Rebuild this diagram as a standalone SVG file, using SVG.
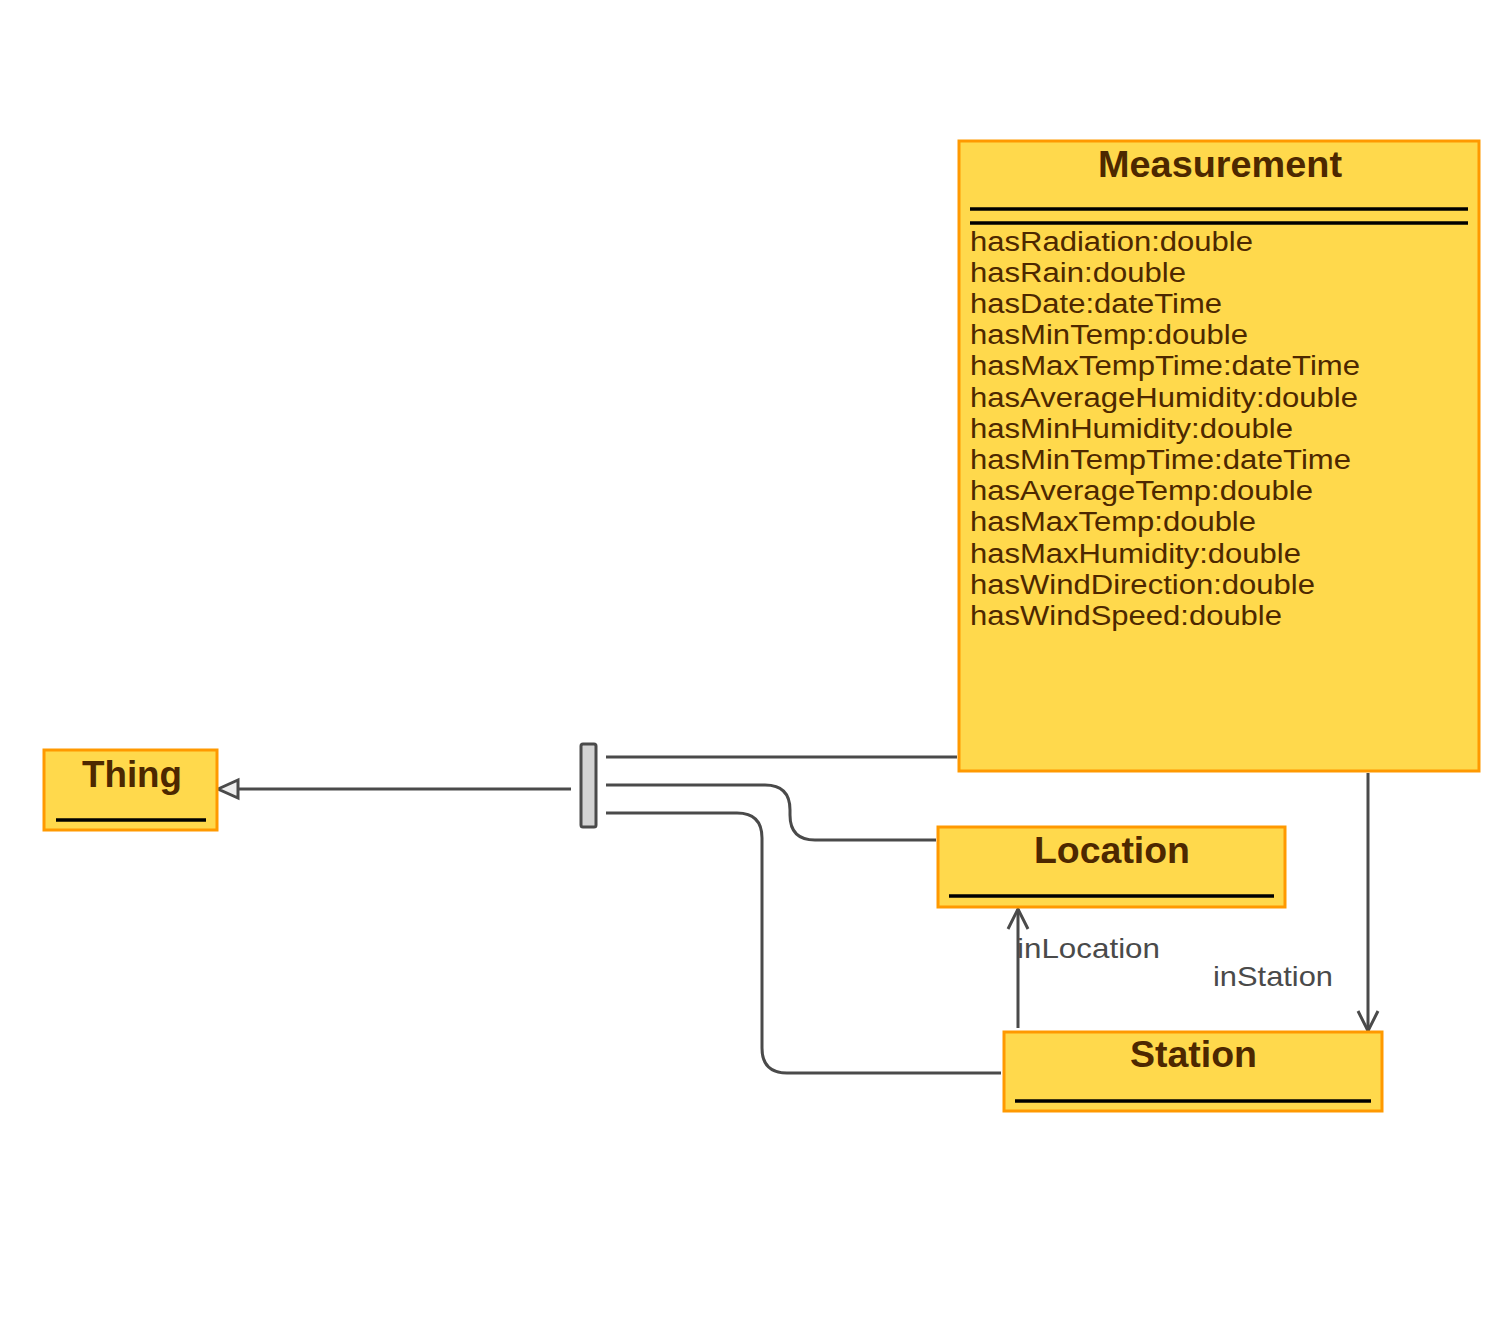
<svg xmlns="http://www.w3.org/2000/svg" width="1509" height="1322" viewBox="0 0 1509 1322">
<style>
.box{fill:#FFD94C;stroke:#FF9900;stroke-width:3}
.title{font-family:"Liberation Sans",Arial,sans-serif;font-weight:bold;font-size:37px;fill:#4D2800}
.attr{font-family:"Liberation Sans",Arial,sans-serif;font-size:27px;fill:#4D2800}
.sep{stroke:#000;stroke-width:3.5}
.conn{fill:none;stroke:#4A4A4A;stroke-width:3}
.lbl{font-family:"Liberation Sans",Arial,sans-serif;font-size:28px;fill:#4A4A4A}
</style>
<defs>
<marker id="open" markerWidth="30" markerHeight="30" refX="24" refY="12" orient="auto" markerUnits="userSpaceOnUse">
<path d="M4,2 L24,12 L4,22" fill="none" stroke="#4A4A4A" stroke-width="3"/>
</marker>
</defs>
<rect width="1509" height="1322" fill="#fff"/>
<g id="connectors">
<line class="conn" x1="571" y1="789" x2="238" y2="789"/>
<path d="M218,789 L238,780 L238,798 Z" fill="#EEEEEE" stroke="#4A4A4A" stroke-width="3" stroke-linejoin="miter"/>
<line class="conn" x1="606" y1="757" x2="957" y2="757"/>
<path class="conn" d="M606,785 L765,785 Q790,785 790,810 L790,815 Q790,840 815,840 L936,840"/>
<path class="conn" d="M606,813 L737,813 Q762,813 762,838 L762,1048 Q762,1073 787,1073 L1001,1073"/>
<line class="conn" x1="1018" y1="1028" x2="1018" y2="909" marker-end="url(#open)"/>
<line class="conn" x1="1368" y1="773" x2="1368" y2="1031" marker-end="url(#open)"/>
<text class="lbl" x="1017" y="958" textLength="143" lengthAdjust="spacingAndGlyphs">inLocation</text>
<text class="lbl" x="1213" y="986" textLength="120" lengthAdjust="spacingAndGlyphs">inStation</text>
</g>
<g id="bar">
<rect x="581" y="744" width="15" height="83" rx="2" fill="#D3D3D3" stroke="#4A4A4A" stroke-width="3"/>
</g>
<g id="Measurement">
<rect class="box" x="959" y="141" width="520" height="630"/>
<text class="title" x="1098" y="177" textLength="244" lengthAdjust="spacingAndGlyphs">Measurement</text>
<line class="sep" x1="970" y1="209" x2="1468" y2="209"/>
<line class="sep" x1="970" y1="223" x2="1468" y2="223"/>
<text class="attr" x="970" y="251" textLength="283" lengthAdjust="spacingAndGlyphs">hasRadiation:double</text>
<text class="attr" x="970" y="282" textLength="216" lengthAdjust="spacingAndGlyphs">hasRain:double</text>
<text class="attr" x="970" y="313" textLength="252" lengthAdjust="spacingAndGlyphs">hasDate:dateTime</text>
<text class="attr" x="970" y="344" textLength="278" lengthAdjust="spacingAndGlyphs">hasMinTemp:double</text>
<text class="attr" x="970" y="375" textLength="390" lengthAdjust="spacingAndGlyphs">hasMaxTempTime:dateTime</text>
<text class="attr" x="970" y="407" textLength="388" lengthAdjust="spacingAndGlyphs">hasAverageHumidity:double</text>
<text class="attr" x="970" y="438" textLength="323" lengthAdjust="spacingAndGlyphs">hasMinHumidity:double</text>
<text class="attr" x="970" y="469" textLength="381" lengthAdjust="spacingAndGlyphs">hasMinTempTime:dateTime</text>
<text class="attr" x="970" y="500" textLength="343" lengthAdjust="spacingAndGlyphs">hasAverageTemp:double</text>
<text class="attr" x="970" y="531" textLength="286" lengthAdjust="spacingAndGlyphs">hasMaxTemp:double</text>
<text class="attr" x="970" y="563" textLength="331" lengthAdjust="spacingAndGlyphs">hasMaxHumidity:double</text>
<text class="attr" x="970" y="594" textLength="345" lengthAdjust="spacingAndGlyphs">hasWindDirection:double</text>
<text class="attr" x="970" y="625" textLength="312" lengthAdjust="spacingAndGlyphs">hasWindSpeed:double</text>
</g>
<g id="Thing">
<rect class="box" x="44" y="750" width="173" height="80"/>
<text class="title" x="82" y="787" textLength="100" lengthAdjust="spacingAndGlyphs">Thing</text>
<line class="sep" x1="56" y1="820" x2="206" y2="820"/>
</g>
<g id="Location">
<rect class="box" x="938" y="827" width="347" height="80"/>
<text class="title" x="1034" y="863" textLength="156" lengthAdjust="spacingAndGlyphs">Location</text>
<line class="sep" x1="949" y1="896" x2="1274" y2="896"/>
</g>
<g id="Station">
<rect class="box" x="1004" y="1032" width="378" height="79"/>
<text class="title" x="1130" y="1067" textLength="127" lengthAdjust="spacingAndGlyphs">Station</text>
<line class="sep" x1="1015" y1="1101" x2="1371" y2="1101"/>
</g>
</svg>
